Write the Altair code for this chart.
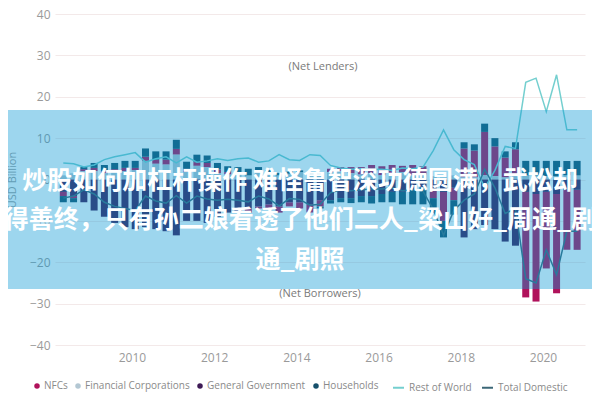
import altair as alt
import pandas as pd

quarters = [
    "2008Q2", "2008Q3", "2008Q4", "2009Q1", "2009Q2", "2009Q3", "2009Q4",
    "2010Q1", "2010Q2", "2010Q3", "2010Q4", "2011Q1", "2011Q2", "2011Q3", "2011Q4",
    "2012Q1", "2012Q2", "2012Q3", "2012Q4", "2013Q1", "2013Q2", "2013Q3", "2013Q4",
    "2014Q1", "2014Q2", "2014Q3", "2014Q4", "2015Q1", "2015Q2", "2015Q3", "2015Q4",
    "2016Q1", "2016Q2", "2016Q3", "2016Q4", "2017Q1", "2017Q2", "2017Q3", "2017Q4",
    "2018Q1", "2018Q2", "2018Q3", "2018Q4", "2019Q1", "2019Q2", "2019Q3", "2019Q4",
    "2020Q1", "2020Q2", "2020Q3", "2020Q4",
]

nfc = [-1.0, -0.5, 0.5, 0.8, 0.5, 0.7, 0.8, 0.6, 1.0, 1.0,
       1.2, 1.4, 0.8, 0.9, 1.0, 0.9, 0.6, -0.5, -1.0, -0.5,
       -1.0, -1.5, -1.0, -1.5, -2.0, -1.5, 0.8, 1.0, 1.5, 1.8,
       2.0, 2.2, 2.0, 1.5, 2.5, 2.0, -2.0, -7.0, -3.0, 7.0,
       6.5, 10.5, 7.2, 4.8, 6.5, -25.5, -26.0, -18.5, -24.0, -14.5, -14.5]
financial = [1.0, 1.5, 2.0, 2.0, 1.5, 1.8, 2.0, 2.2, 4.5, 3.8,
             3.6, 6.0, 1.8, 3.3, 3.0, 1.5, 1.2, 1.5, 1.0, 1.8,
             1.5, 1.0, 1.4, 1.8, 1.5, 1.0, 1.8, 2.0, 1.5, 1.2,
             1.5, 1.0, 1.5, 1.8, 1.0, 1.2, 0.8, 0.5, 1.0, 0.5,
             0.5, 1.0, 0.8, 0.5, 0.8, 1.0, 1.0, 0.8, 0.8, 1.0, 1.0]
government = [-3.0, -4.0, -5.5, -7.5, -9.0, -10.5, -11.5, -12.0, -11.5, -12.0,
              -12.5, -13.5, -10.0, -10.0, -10.5, -9.0, -8.0, -7.5, -7.0, -6.5,
              -6.0, -6.5, -5.5, -5.5, -6.0, -5.0, -5.0, -4.5, -4.5, -4.0,
              -4.0, -3.5, -3.0, -3.0, -2.5, -2.0, -2.5, -3.0, -2.0, -14.0,
              -12.0, -11.0, -12.0, -15.0, -16.0, -3.0, -3.5, -3.0, -3.5, -2.5, -2.5]
households = [-1.5, -1.0, 0.5, 1.2, 1.5, 1.5, 1.7, 1.7, 2.0, 2.0,
              2.0, 2.2, 1.7, 1.8, 1.8, 1.6, 1.4, 1.5, 1.6, 1.2,
              0.8, 0.6, 0.5, 0.4, 0.3, -0.5, -0.8, -1.0, -1.2, -1.5,
              -1.8, -2.0, -2.5, -3.0, -3.5, -4.0, -3.5, -4.0, -3.5, 1.5,
              1.5, 2.0, 2.0, 1.5, 1.7, 3.5, 3.5, 3.7, 3.7, 3.5, 3.5]
rest_of_world = [4.0, 3.8, 3.0, 3.5, 4.8, 5.5, 6.0, 6.5, 4.2, 5.0,
                 5.5, 4.0, 5.5, 4.2, 4.5, 5.0, 4.6, 5.0, 5.2, 4.2,
                 4.5, 6.0, 4.8, 4.6, 6.0, 5.8, 3.4, 2.8, 2.5, 2.6,
                 2.4, 2.5, 2.2, 2.8, 2.6, 3.0, 7.0, 12.0, 7.2, 4.8,
                 3.6, -2.0, 2.2, 8.0, 7.5, 23.5, 24.5, 16.4, 25.3, 12.0, 12.0]
total_domestic = [-4.5, -4.0, -2.5, -3.5, -5.5, -6.5, -7.0, -7.5, -4.0, -5.2,
                  -5.7, -3.9, -5.7, -4.0, -4.7, -5.0, -4.8, -5.0, -5.4, -4.0,
                  -4.7, -6.4, -4.6, -4.8, -6.2, -6.0, -3.2, -2.5, -2.7, -2.5,
                  -2.3, -2.3, -2.0, -2.7, -2.5, -2.8, -7.2, -13.5, -7.5, -5.0,
                  -3.5, 2.5, -2.0, -8.2, -7.0, -24.0, -25.0, -17.0, -23.0, -12.5, -12.5]

sectors = ["NFCs", "Financial Corporations", "General Government", "Households"]
sector_colors = ["#b0125b", "#b3c7d3", "#3e1a55", "#16506b"]
stack_rank = {"Financial Corporations": 0, "General Government": 1, "NFCs": 2, "Households": 3}
line_names = ["Rest of World", "Total Domestic"]
line_colors = ["#74cfcf", "#3b6777"]
year_ticks = [2010, 2012, 2014, 2016, 2018, 2020]
y_ticks = [-40, -30, -20, -10, 0, 10, 20, 30, 40]

title_lines = [
    "炒股如何加杠杆操作 难怪鲁智深功德圆满，武松却",
    "得善终，只有孙二娘看透了他们二人_梁山好_周通_剧",
    "通_剧照",
]


def qpos(q):
    return int(q[:4]) + (int(q[5]) - 1) / 4 + 0.08


bar_rows = []
for i, q in enumerate(quarters):
    for s, vals in zip(sectors, [nfc, financial, government, households]):
        bar_rows.append({"t": qpos(q), "sector": s, "value": vals[i], "rank": stack_rank[s]})
bars_df = pd.DataFrame(bar_rows)

line_rows = []
for i, q in enumerate(quarters):
    for s, vals in zip(line_names, [rest_of_world, total_domestic]):
        line_rows.append({"t": qpos(q), "series": s, "value": vals[i]})
lines_df = pd.DataFrame(line_rows)

x_scale = alt.Scale(domain=[2008.25, 2020.9], nice=False, zero=False)
y_scale = alt.Scale(domain=[-40, 40], nice=False)
FONT = "Open Sans"

bars = alt.Chart(bars_df).mark_bar(size=7).encode(
    x=alt.X("t:Q", scale=x_scale,
            axis=alt.Axis(values=year_ticks, format="d", grid=False, title=None,
                          labelPadding=7, labelFontSize=12, labelColor="#9a9a9a",
                          labelFont=FONT, domain=False, ticks=False)),
    y=alt.Y("value:Q", stack="zero", scale=y_scale,
            axis=alt.Axis(values=y_ticks, title="USD Billion", titleX=-38,
                          titleFontSize=11, titleColor="#a0a0a0", titleFontWeight="normal",
                          titleFont=FONT, labelPadding=5, labelFontSize=12,
                          labelColor="#9a9a9a", labelFont=FONT, domain=False, ticks=False,
                          grid=True, gridColor="#f3e9e9", gridWidth=1)),
    color=alt.Color("sector:N", scale=alt.Scale(domain=sectors, range=sector_colors),
                    legend=alt.Legend(orient="none", legendX=-23, legendY=367,
                                      direction="horizontal", columns=4, title=None,
                                      symbolType="circle", symbolSize=30,
                                      labelFontSize=10, labelColor="#8a8a8a",
                                      labelFont=FONT, columnPadding=5, labelOffset=2)),
    order=alt.Order("rank:Q"),
)

lines = alt.Chart(lines_df).mark_line(strokeWidth=1.5).encode(
    x="t:Q",
    y="value:Q",
    stroke=alt.Stroke("series:N", scale=alt.Scale(domain=line_names, range=line_colors),
                      legend=alt.Legend(orient="none", legendX=337, legendY=367,
                                        direction="horizontal", columns=2, title=None,
                                        symbolType="stroke", symbolStrokeWidth=2,
                                        symbolSize=120, labelFontSize=10,
                                        labelColor="#8a8a8a", labelFont=FONT,
                                        columnPadding=6, labelOffset=4)),
)

one = pd.DataFrame({"k": [0]})

lenders = alt.Chart(one).mark_text(text="(Net Lenders)", fontSize=11, color="#7a7a7a",
                                   font=FONT, align="center", baseline="middle").encode(
    x=alt.value(268), y=alt.value(53))
borrowers = alt.Chart(one).mark_text(text="(Net Borrowers)", fontSize=11, color="#7a7a7a",
                                     font=FONT, align="center", baseline="middle").encode(
    x=alt.value(265), y=alt.value(280))

banner = alt.Chart(one).mark_rect(color="#0a98d4", opacity=0.4).encode(
    x=alt.value(-60), x2=alt.value(560), y=alt.value(96), y2=alt.value(275))

text_layers = []
for txt, ypos in zip(title_lines, [167, 206, 246]):
    text_layers.append(
        alt.Chart(one).mark_text(text=txt, fontSize=25, fontWeight="bold", color="white",
                                 font="Noto Sans CJK SC", align="center",
                                 baseline="middle").encode(
            x=alt.value(245), y=alt.value(ypos)))

chart = alt.layer(bars, lines, lenders, borrowers, banner, *text_layers).properties(
    width=530, height=331,
    autosize=alt.AutoSizeParams(type="none"),
    padding={"left": 47, "top": 6, "right": 7, "bottom": 47},
    background="white",
).configure_view(strokeWidth=0)

chart.save("out.html", embed_options={"renderer": "svg", "actions": False})
